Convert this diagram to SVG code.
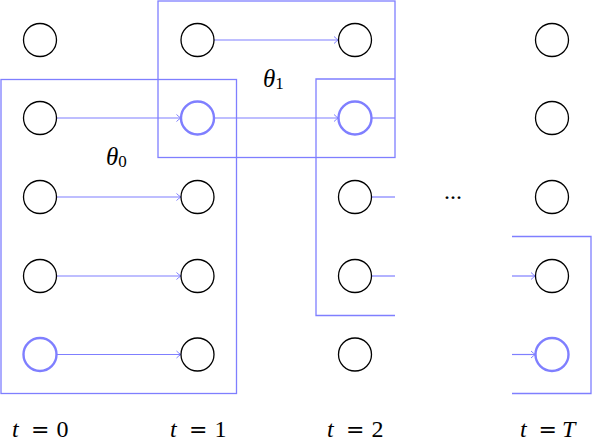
<svg xmlns="http://www.w3.org/2000/svg" width="592" height="442" viewBox="0 0 592 442">
<style>
.n{fill:none;stroke:#000;stroke-width:1.3}
.h{fill:none;stroke:#7f7fff;stroke-width:2.4}
.b{fill:none;stroke:#7f7fff;stroke-width:1.3}
.c{fill:none;stroke:#7f7fff;stroke-width:1.2}
.a{marker-end:url(#arr)}
.t{font-family:"Liberation Serif",serif;font-size:24px;fill:#000}
.th{font-family:"Liberation Serif",serif;font-size:25px;fill:#000}
.i{font-style:italic}
.eq{font-family:"DejaVu Serif",serif;font-size:22px}
</style>
<defs>
<marker id="arr" markerUnits="userSpaceOnUse" markerWidth="10" markerHeight="10" viewBox="-6 -5 8 10" refX="0" refY="0" orient="auto">
<path d="M-4.5,-3.5 Q-2,-1 0,0 Q-2,1 -4.5,3.5" fill="none" stroke="#7f7fff" stroke-width="1"/>
</marker>
</defs>
<g id="boxes">
<rect id="box-theta0" class="b" x="1" y="79.5" width="235.5" height="314"/>
<rect id="box-theta1" class="b" x="158" y="1" width="237" height="156.5"/>
<path id="box-2" class="b" d="M395,79 H316 V315.5 H395"/>
<path id="box-T" class="b" d="M512,236.5 H591 V393.5 H512"/>
</g>
<g id="connectors">
<line class="c a" x1="214" y1="40" x2="338.5" y2="40"/>
<line class="c a" x1="56.5" y1="118" x2="181" y2="118"/>
<line class="c a" x1="214" y1="118" x2="338.5" y2="118"/>
<line class="c" x1="371.5" y1="118" x2="395" y2="118"/>
<line class="c a" x1="56.5" y1="197" x2="181" y2="197"/>
<line class="c" x1="371.5" y1="197" x2="395" y2="197"/>
<line class="c a" x1="56.5" y1="276" x2="181" y2="276"/>
<line class="c" x1="371.5" y1="276" x2="395" y2="276"/>
<line class="c a" x1="512" y1="276" x2="535.5" y2="276"/>
<line class="c a" x1="56.5" y1="354.5" x2="181" y2="354.5"/>
<line class="c a" x1="512" y1="354.5" x2="535.5" y2="354.5"/>
</g>
<g id="col0">
<g id="n00"><circle class="n" cx="40" cy="40" r="16.5"/></g>
<g id="n01"><circle class="n" cx="40" cy="118" r="16.5"/></g>
<g id="n02"><circle class="n" cx="40" cy="197" r="16.5"/></g>
<g id="n03"><circle class="n" cx="40" cy="276" r="16.5"/></g>
<g id="n04"><circle class="h" cx="40" cy="354.5" r="16.5"/></g>
</g>
<g id="col1">
<g id="n10"><circle class="n" cx="197.5" cy="40" r="16.5"/></g>
<g id="n11"><circle class="h" cx="197.5" cy="118" r="16.5"/></g>
<g id="n12"><circle class="n" cx="197.5" cy="197" r="16.5"/></g>
<g id="n13"><circle class="n" cx="197.5" cy="276" r="16.5"/></g>
<g id="n14"><circle class="n" cx="197.5" cy="354.5" r="16.5"/></g>
</g>
<g id="col2">
<g id="n20"><circle class="n" cx="355" cy="40" r="16.5"/></g>
<g id="n21"><circle class="h" cx="355" cy="118" r="16.5"/></g>
<g id="n22"><circle class="n" cx="355" cy="197" r="16.5"/></g>
<g id="n23"><circle class="n" cx="355" cy="276" r="16.5"/></g>
<g id="n24"><circle class="n" cx="355" cy="354.5" r="16.5"/></g>
</g>
<g id="colT">
<g id="nT0"><circle class="n" cx="552" cy="40" r="16.5"/></g>
<g id="nT1"><circle class="n" cx="552" cy="118" r="16.5"/></g>
<g id="nT2"><circle class="n" cx="552" cy="197" r="16.5"/></g>
<g id="nT3"><circle class="n" cx="552" cy="276" r="16.5"/></g>
<g id="nT4"><circle class="h" cx="552" cy="354.5" r="16.5"/></g>
</g>
<g id="labels">
<text class="th" x="106" y="165"><tspan class="i">θ</tspan><tspan font-size="17" dy="2">0</tspan></text>
<text class="th" x="263" y="87"><tspan class="i">θ</tspan><tspan font-size="17" dy="2">1</tspan></text>
<text class="t" x="453" y="199" text-anchor="middle">...</text>
<text class="t" y="437"><tspan class="i" x="12">t</tspan><tspan class="eq" x="31">=</tspan><tspan x="56.5">0</tspan></text>
<text class="t" y="437"><tspan class="i" x="170">t</tspan><tspan class="eq" x="189">=</tspan><tspan x="214.5">1</tspan></text>
<text class="t" y="437"><tspan class="i" x="327">t</tspan><tspan class="eq" x="346">=</tspan><tspan x="371.5">2</tspan></text>
<text class="t" y="437"><tspan class="i" x="520">t</tspan><tspan class="eq" x="538.5">=</tspan><tspan class="i" x="562">T</tspan></text>
</g>
</svg>
